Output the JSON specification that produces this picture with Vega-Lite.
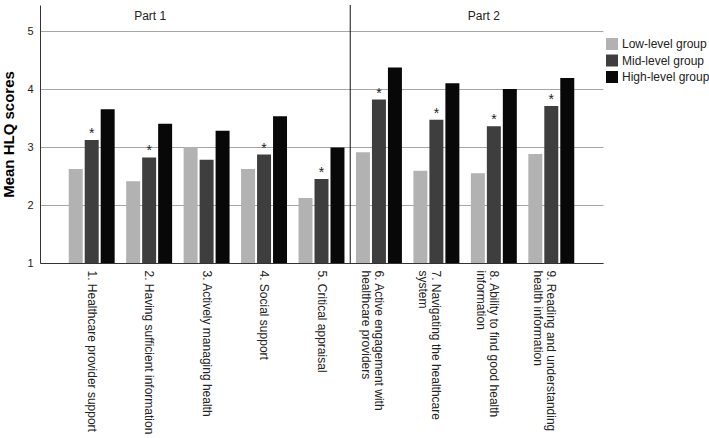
{
  "$schema": "https://vega.github.io/schema/vega-lite/v6.json",
  "autosize": "none",
  "width": 563,
  "height": 258,
  "padding": {"left": 40, "top": 5, "right": 106, "bottom": 175},
  "background": "white",
  "config": {
    "font": "Liberation Sans",
    "view": {"stroke": null},
    "axis": {"labelFont": "Liberation Sans", "titleFont": "Liberation Sans"}
  },
  "datasets": {
    "scores": [
      {"cat": "1. Healthcare provider support", "group": "Low-level group", "score": 2.62, "sig": false},
      {"cat": "1. Healthcare provider support", "group": "Mid-level group", "score": 3.12, "sig": true},
      {"cat": "1. Healthcare provider support", "group": "High-level group", "score": 3.65, "sig": false},
      {"cat": "2. Having sufficient information", "group": "Low-level group", "score": 2.41, "sig": false},
      {"cat": "2. Having sufficient information", "group": "Mid-level group", "score": 2.82, "sig": true},
      {"cat": "2. Having sufficient information", "group": "High-level group", "score": 3.40, "sig": false},
      {"cat": "3. Actively managing health", "group": "Low-level group", "score": 3.00, "sig": false},
      {"cat": "3. Actively managing health", "group": "Mid-level group", "score": 2.78, "sig": false},
      {"cat": "3. Actively managing health", "group": "High-level group", "score": 3.28, "sig": false},
      {"cat": "4. Social support", "group": "Low-level group", "score": 2.62, "sig": false},
      {"cat": "4. Social support", "group": "Mid-level group", "score": 2.87, "sig": true},
      {"cat": "4. Social support", "group": "High-level group", "score": 3.53, "sig": false},
      {"cat": "5. Critical appraisal", "group": "Low-level group", "score": 2.12, "sig": false},
      {"cat": "5. Critical appraisal", "group": "Mid-level group", "score": 2.45, "sig": true},
      {"cat": "5. Critical appraisal", "group": "High-level group", "score": 2.99, "sig": false},
      {"cat": "6. Active engagement with healthcare providers", "group": "Low-level group", "score": 2.91, "sig": false},
      {"cat": "6. Active engagement with healthcare providers", "group": "Mid-level group", "score": 3.82, "sig": true},
      {"cat": "6. Active engagement with healthcare providers", "group": "High-level group", "score": 4.37, "sig": false},
      {"cat": "7. Navigating the healthcare system", "group": "Low-level group", "score": 2.59, "sig": false},
      {"cat": "7. Navigating the healthcare system", "group": "Mid-level group", "score": 3.47, "sig": true},
      {"cat": "7. Navigating the healthcare system", "group": "High-level group", "score": 4.10, "sig": false},
      {"cat": "8. Ability to find good health information", "group": "Low-level group", "score": 2.55, "sig": false},
      {"cat": "8. Ability to find good health information", "group": "Mid-level group", "score": 3.36, "sig": true},
      {"cat": "8. Ability to find good health information", "group": "High-level group", "score": 4.00, "sig": false},
      {"cat": "9. Reading and understanding health information", "group": "Low-level group", "score": 2.88, "sig": false},
      {"cat": "9. Reading and understanding health information", "group": "Mid-level group", "score": 3.71, "sig": true},
      {"cat": "9. Reading and understanding health information", "group": "High-level group", "score": 4.19, "sig": false}
    ],
    "part1": [
      {"cat": "2. Having sufficient information", "label": "Part 1", "pos": 5.26}
    ],
    "part2": [
      {"cat": "8. Ability to find good health information", "label": "Part 2", "pos": 5.26}
    ],
    "divider": [
      {"cat": "6. Active engagement with healthcare providers"}
    ]
  },
  "encoding": {
    "x": {
      "field": "cat",
      "type": "nominal",
      "sort": null,
      "scale": {
        "domain": [
          "1. Healthcare provider support",
          "2. Having sufficient information",
          "3. Actively managing health",
          "4. Social support",
          "5. Critical appraisal",
          "6. Active engagement with healthcare providers",
          "7. Navigating the healthcare system",
          "8. Ability to find good health information",
          "9. Reading and understanding health information"
        ],
        "paddingInner": 0,
        "paddingOuter": 0.4
      },
      "axis": {
        "title": null,
        "labelAngle": 90,
        "labelAlign": "left",
        "labelBaseline": "middle",
        "labelPadding": 7,
        "labelFontSize": 12,
        "labelLineHeight": 13,
        "labelColor": "#222222",
        "labelLimit": 300,
        "ticks": false,
        "domainColor": "#333333",
        "domainWidth": 1,
        "labelExpr": "datum.label == '6. Active engagement with healthcare providers' ? ['6. Active engagement with', 'healthcare providers'] : datum.label == '7. Navigating the healthcare system' ? ['7. Navigating the healthcare', 'system'] : datum.label == '8. Ability to find good health information' ? ['8. Ability to find good health', 'information'] : datum.label == '9. Reading and understanding health information' ? ['9. Reading and understanding', 'health information'] : datum.label"
      }
    }
  },
  "layer": [
    {
      "data": {"name": "scores"},
      "mark": {"type": "bar"},
      "encoding": {
        "xOffset": {
          "field": "group",
          "type": "nominal",
          "sort": ["Low-level group", "Mid-level group", "High-level group"],
          "scale": {"paddingInner": 0.125, "paddingOuter": 0.36}
        },
        "y": {
          "field": "score",
          "type": "quantitative",
          "scale": {"domain": [1, 5.45], "nice": false, "zero": false},
          "axis": {
            "title": "Mean HLQ scores",
            "titleFontSize": 15,
            "titleFontWeight": "bold",
            "titleColor": "#000000",
            "titlePadding": 10,
            "values": [1, 2, 3, 4, 5],
            "format": "d",
            "labelFontSize": 11,
            "labelColor": "#222222",
            "labelPadding": 7,
            "ticks": false,
            "domainColor": "#333333",
            "grid": true,
            "gridColor": "#a6a6a6",
            "gridWidth": 1
          }
        },
        "y2": {"datum": 1},
        "color": {
          "field": "group",
          "type": "nominal",
          "sort": ["Low-level group", "Mid-level group", "High-level group"],
          "scale": {
            "domain": ["Low-level group", "Mid-level group", "High-level group"],
            "range": ["#b2b2b2", "#3e3e3e", "#080808"]
          },
          "legend": {
            "title": null,
            "orient": "none",
            "legendX": 566,
            "legendY": 33,
            "symbolType": "square",
            "symbolSize": 144,
            "symbolStrokeWidth": 0,
            "labelFontSize": 12,
            "labelColor": "#222222",
            "labelOffset": 4,
            "rowPadding": 4.5,
            "padding": 0
          }
        }
      }
    },
    {
      "data": {"name": "scores"},
      "transform": [{"filter": "datum.sig"}],
      "mark": {"type": "text", "text": "*", "fontSize": 14, "baseline": "alphabetic", "dy": -2, "color": "#222222"},
      "encoding": {
        "xOffset": {
          "field": "group",
          "type": "nominal",
          "sort": ["Low-level group", "Mid-level group", "High-level group"],
          "scale": {"paddingInner": 0.125, "paddingOuter": 0.36}
        },
        "y": {"field": "score", "type": "quantitative"}
      }
    },
    {
      "data": {"name": "divider"},
      "mark": {"type": "rule", "color": "#111111", "strokeWidth": 1},
      "encoding": {
        "x": {"field": "cat", "type": "nominal", "bandPosition": 0}
      }
    },
    {
      "data": {"name": "part1"},
      "mark": {"type": "text", "fontSize": 12, "color": "#222222", "baseline": "middle", "dx": 1},
      "encoding": {
        "y": {"field": "pos", "type": "quantitative"},
        "text": {"field": "label"}
      }
    },
    {
      "data": {"name": "part2"},
      "mark": {"type": "text", "fontSize": 12, "color": "#222222", "baseline": "middle", "dx": -10},
      "encoding": {
        "y": {"field": "pos", "type": "quantitative"},
        "text": {"field": "label"}
      }
    }
  ]
}
